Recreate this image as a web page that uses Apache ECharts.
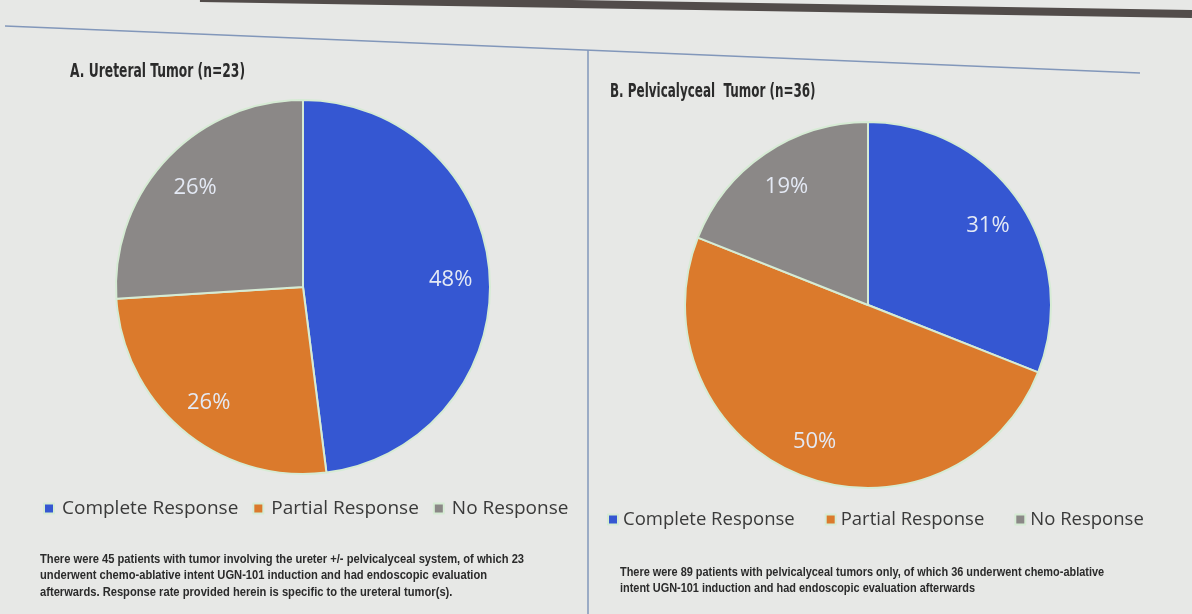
<!DOCTYPE html>
<html>
<head>
<meta charset="utf-8">
<title>UGN-101 response by tumor location</title>
<script src="https://cdn.jsdelivr.net/npm/echarts@6/dist/echarts.min.js"></script>
<style>
  html, body { margin: 0; padding: 0; background: #e7e8e6; }
  #main { width: 1192px; height: 614px; }
</style>
</head>
<body>
<div id="main"></div>
<script>
  // categories + values (percent of patients)
  const categories = ['Complete Response', 'Partial Response', 'No Response'];
  const ureteralPct = [48, 26, 26];   // A. n=23
  const pelvicPct = [31, 50, 19];     // B. n=36

  const titleA = 'A. Ureteral Tumor (n=23)';
  const titleB = 'B. Pelvicalyceal  Tumor (n=36)';
  const noteA = 'There were 45 patients with tumor involving the ureter +/- pelvicalyceal system, of which 23\n' +
    'underwent chemo-ablative intent UGN-101 induction and had endoscopic evaluation\n' +
    'afterwards. Response rate provided herein is specific to the ureteral tumor(s).';
  const noteB = 'There were 89 patients with pelvicalyceal tumors only, of which 36 underwent chemo-ablative\n' +
    'intent UGN-101 induction and had endoscopic evaluation afterwards';

  const palette = ['#3557d2', '#db7a2c', '#8b8887'];

  function toData(values) {
    return categories.map(function (name, i) {
      return { name: name, value: values[i] };
    });
  }

  // visible pie, no labels
  function piePart(center, r, values) {
    return {
      type: 'pie',
      center: center,
      radius: r,
      startAngle: 90,
      clockwise: true,
      animation: false,
      label: { show: false },
      labelLine: { show: false },
      itemStyle: { borderColor: '#d6ebd4', borderWidth: 2 },
      emphasis: { scale: false },
      data: toData(values)
    };
  }

  // transparent copy so the labels sit further out than the half radius
  function pieLabels(center, r, values) {
    return {
      type: 'pie',
      center: center,
      radius: [Math.round(r * 0.55), r],
      startAngle: 90,
      clockwise: true,
      animation: false,
      silent: true,
      legendHoverLink: false,
      itemStyle: { color: 'rgba(0,0,0,0)' },
      label: {
        show: true,
        position: 'inside',
        formatter: '{c}%',
        color: '#e4e9f4',
        fontSize: 22,
        fontFamily: 'Open Sans',
        offset: [0, 2]
      },
      labelLine: { show: false },
      data: toData(values)
    };
  }

  // condensed slide fonts: squeeze the text horizontally
  function squeezed(str, x, y, font, sx, lh) {
    return {
      type: 'text', x: x, y: y, scaleX: sx, silent: true,
      style: { text: str, font: font, fill: '#2b2b2b', lineHeight: lh || 20, textVerticalAlign: 'top' }
    };
  }

  let chart = echarts.init(document.getElementById('main'));
  chart.setOption({
    backgroundColor: '#e7e8e6',
    color: palette,
    legend: [
      { left: 43, top: 499, padding: 0, icon: 'rect', itemWidth: 10, itemHeight: 10, itemGap: 14,
        data: categories, selectedMode: false,
        textStyle: { fontSize: 19, color: '#3a3a3a', fontFamily: 'Open Sans', padding: [0, 0, 0, 3] } },
      { left: 607, top: 510, padding: 0, icon: 'rect', itemWidth: 10, itemHeight: 10, itemGap: 30,
        data: categories, selectedMode: false,
        textStyle: { fontSize: 18.5, color: '#3a3a3a', fontFamily: 'Open Sans' } }
    ],
    graphic: [
      // dark edge of the projection screen
      { type: 'line', shape: { x1: 200, y1: -2, x2: 1192, y2: 14 },
        style: { stroke: '#524c4a', lineWidth: 8 } },
      // slide divider lines
      { type: 'line', shape: { x1: 5, y1: 26, x2: 1140, y2: 73 },
        style: { stroke: '#8297ba', lineWidth: 1.5 } },
      { type: 'line', shape: { x1: 588, y1: 50, x2: 588, y2: 614 },
        style: { stroke: '#8297ba', lineWidth: 1.5 } },
      squeezed(titleA, 70, 62, 'bold 19px "DejaVu Sans Condensed"', 0.72),
      squeezed(titleB, 610, 82, 'bold 19px "DejaVu Sans Condensed"', 0.7),
      squeezed(noteA, 40, 551, 'bold 12px "Liberation Sans"', 0.93, 16.5),
      squeezed(noteB, 620, 564, 'bold 12px "Liberation Sans"', 0.91, 16.5)
    ],
    series: [
      piePart([303, 287], 187, ureteralPct),
      piePart([868, 305], 183, pelvicPct),
      pieLabels([303, 287], 187, ureteralPct),
      pieLabels([868, 305], 183, pelvicPct)
    ]
  });
</script>
</body>
</html>
